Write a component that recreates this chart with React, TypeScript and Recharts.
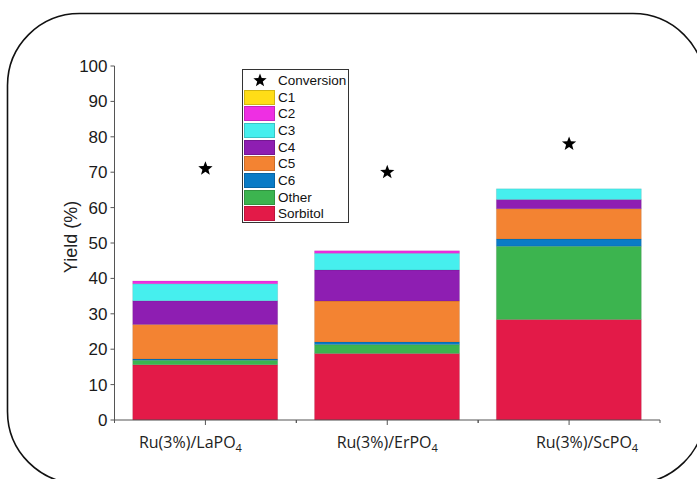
import { Bar, ComposedChart, Scatter, XAxis, YAxis } from "recharts"

// Support metal of each Ru(3%)/MPO4 catalyst
const CATALYSTS = ["La", "Er", "Sc"]

// Yield of each product group (%), stacked from the bottom up
const SORBITOL = [15.6, 18.8, 28.4]
const OTHER = [1.3, 2.5, 20.7]
const C6 = [0.3, 0.7, 2.0]
const C5 = [9.8, 11.6, 8.6]
const C4 = [6.7, 8.8, 2.6]
const C3 = [4.8, 4.7, 3.0]
const C2 = [0.8, 0.7, 0]
const C1 = [0, 0, 0]

// Cellulose conversion (%)
const CONVERSION = [71, 70, 78]

const Y_TICKS = [0, 10, 20, 30, 40, 50, 60, 70, 80, 90, 100]
const Y_MINOR_TICKS = [5, 15, 25, 35, 45, 55, 65, 75, 85, 95]

const SERIES = [
  { key: "sorbitol", name: "Sorbitol", color: "#E31A48", values: SORBITOL },
  { key: "other", name: "Other", color: "#3CB44F", values: OTHER },
  { key: "c6", name: "C6", color: "#0A7BC6", values: C6 },
  { key: "c5", name: "C5", color: "#F38332", values: C5 },
  { key: "c4", name: "C4", color: "#8E1EB2", values: C4 },
  { key: "c3", name: "C3", color: "#46EFEE", values: C3 },
  { key: "c2", name: "C2", color: "#EE2FE3", values: C2 },
  { key: "c1", name: "C1", color: "#FFDD17", values: C1 },
]

const data = CATALYSTS.map((name, i) => {
  const row: Record<string, number | string> = { name, conversion: CONVERSION[i] }
  SERIES.forEach((s) => {
    row[s.key] = s.values[i]
  })
  return row
})

// the category labels sit a little off their ticks
const LABEL_SHIFT = [-15, 0, 18]

const AXIS = "#555"
const FRAME = "#999"
const ARIAL = "'Liberation Sans', Arial, sans-serif"

// outer rounded panel: left/top/right/bottom edges and corner radius
const PANEL = { l: 7.5, t: 13.5, r: 705, b: 483.5, rad: 72 }

const panelPath = () => {
  const { l, t, r, b, rad } = PANEL
  return [
    `M ${r} ${t + rad} A ${rad} ${rad} 0 0 0 ${r - rad} ${t}`,
    `L ${l + rad} ${t} A ${rad} ${rad} 0 0 0 ${l} ${t + rad}`,
    `L ${l} ${b - rad} A ${rad} ${rad} 0 0 0 ${l + rad} ${b}`,
    `L ${r - rad} ${b} A ${rad} ${rad} 0 0 0 ${r} ${b - rad}`,
  ].join(" ")
}

const starPoints = (cx: number, cy: number, r: number) =>
  Array.from({ length: 10 }, (_, i) => {
    const rad = i % 2 === 0 ? r : r * 0.42
    const a = -Math.PI / 2 + (i * Math.PI) / 5
    return `${cx + rad * Math.cos(a)},${cy + rad * Math.sin(a)}`
  }).join(" ")

const StarMark = (props: any) => {
  const { cx, cy } = props
  if (cx == null || cy == null) return <g />
  return <polygon points={starPoints(cx, cy, 7.5)} fill="#000" />
}

const CatalystTick = (props: any) => {
  const { x, y, payload, index } = props
  const half = payload?.offset ?? 0
  const axisY = y - 5
  return (
    <g>
      {half > 0 ? (
        <>
          <line x1={x - half} x2={x - half} y1={axisY} y2={axisY + 3} stroke={AXIS} />
          <line x1={x + half} x2={x + half} y1={axisY} y2={axisY + 3} stroke={AXIS} />
        </>
      ) : null}
      <text
        x={x + (LABEL_SHIFT[index] ?? 0)}
        y={y + 23}
        textAnchor="middle"
        fill="#222"
        fontSize={16}
        fontFamily="'Open Sans', sans-serif"
      >
        {`Ru(3%)/${payload.value}PO`}
        <tspan dy={4} fontSize={11}>
          4
        </tspan>
      </text>
    </g>
  )
}

const LegendBox = () => {
  const rows = [...SERIES].reverse()
  return (
    <div
      style={{
        position: "absolute",
        left: 242,
        top: 69,
        width: 107,
        height: 154,
        boxSizing: "border-box",
        border: "1px solid #333",
        background: "#fff",
        fontFamily: ARIAL,
        fontSize: 13.5,
        color: "#111",
        paddingTop: 2,
        whiteSpace: "nowrap",
      }}
    >
      <div style={{ height: 16.7, display: "flex", alignItems: "center" }}>
        <svg width={35} height={16} style={{ flex: "none" }}>
          <polygon points={starPoints(17, 8.5, 7)} fill="#000" />
        </svg>
        <span>Conversion</span>
      </div>
      {rows.map((s) => (
        <div key={s.key} style={{ height: 16.7, display: "flex", alignItems: "center" }}>
          <span
            style={{
              flex: "none",
              width: 31,
              height: 15,
              marginLeft: 1,
              marginRight: 3,
              boxSizing: "border-box",
              background: s.color,
              border: "1px solid rgba(0,0,0,0.18)",
            }}
          />
          <span>{s.name}</span>
        </div>
      ))}
    </div>
  )
}

export default function App() {
  return (
    <div
      style={{
        position: "fixed",
        left: 0,
        top: 0,
        width: 697,
        height: 479,
        overflow: "hidden",
        background: "#fff",
      }}
    >
      <div style={{ position: "absolute", left: 0, top: 0 }}>
        <ComposedChart
          width={697}
          height={479}
          data={data}
          margin={{ top: 66, right: 37, bottom: 19, left: 60 }}
          barCategoryGap="10%"
        >
          <XAxis
            xAxisId="main"
            dataKey="name"
            height={40}
            tickSize={5}
            tickMargin={0}
            axisLine={{ stroke: AXIS }}
            tickLine={{ stroke: AXIS }}
            tick={<CatalystTick />}
          />
          <XAxis
            xAxisId="frame"
            dataKey="name"
            orientation="top"
            height={0}
            tick={false}
            tickLine={false}
            axisLine={{ stroke: FRAME }}
          />
          <YAxis
            yAxisId="left"
            type="number"
            domain={[0, 100]}
            ticks={Y_TICKS}
            width={54.5}
            tickSize={4}
            tickMargin={3}
            axisLine={{ stroke: AXIS }}
            tickLine={{ stroke: AXIS }}
            tick={{ fill: "#1a1a1a", fontSize: 17, fontFamily: ARIAL }}
            label={{
              value: "Yield (%)",
              angle: -90,
              position: "insideLeft",
              offset: 11,
              dy: -6,
              style: { textAnchor: "middle", fill: "#222", fontSize: 18, fontFamily: ARIAL },
            }}
          />
          <YAxis
            yAxisId="minor"
            type="number"
            domain={[0, 100]}
            ticks={Y_MINOR_TICKS}
            width={0}
            tickSize={2.5}
            axisLine={false}
            tickLine={{ stroke: AXIS }}
            tick={() => <g />}
          />
          <YAxis
            yAxisId="frame"
            orientation="right"
            type="number"
            domain={[0, 100]}
            width={0}
            tick={false}
            tickLine={false}
            axisLine={{ stroke: FRAME }}
          />
          {SERIES.map((s) => (
            <Bar
              key={s.key}
              xAxisId="main"
              yAxisId="left"
              dataKey={s.key}
              name={s.name}
              stackId="yield"
              fill={s.color}
              stroke="rgba(0,0,0,0.15)"
              strokeWidth={0.6}
              isAnimationActive={false}
            />
          ))}
          <Scatter
            xAxisId="main"
            yAxisId="left"
            dataKey="conversion"
            name="Conversion"
            shape={<StarMark />}
            isAnimationActive={false}
          />
        </ComposedChart>
      </div>
      <LegendBox />
      {/* rounded panel outline; its right side lies past the edge */}
      <svg
        width={697}
        height={479}
        style={{ position: "absolute", left: 0, top: 0, pointerEvents: "none" }}
      >
        <path d={panelPath()} fill="none" stroke="#111" strokeWidth={1.6} />
      </svg>
    </div>
  )
}
